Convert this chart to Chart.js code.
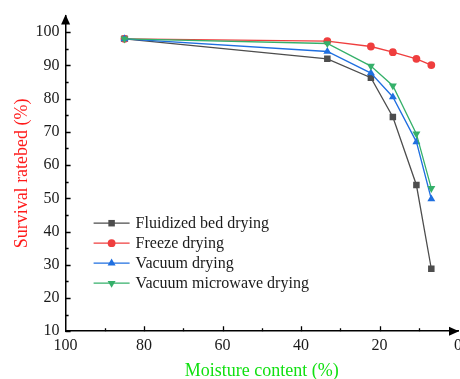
<!DOCTYPE html>
<html>
<head>
<meta charset="utf-8">
<script src="https://cdn.jsdelivr.net/npm/chart.js@4.4.1/dist/chart.umd.min.js"></script>
<style>
  html, body { margin: 0; padding: 0; background: #fff; overflow: hidden; }
  #wrap { width: 467px; height: 379px; position: relative; }
</style>
</head>
<body>
<div id="wrap"><canvas id="survivalChart" aria-label="Survival rate vs moisture content" role="img"></canvas></div>
<script>
const moisture = [85, 33.3, 22.2, 16.6, 10.6, 6.8];
const fluidizedBed = [98, 92, 86.3, 74.5, 54, 28.8];
const freezeDrying = [98, 97.3, 95.7, 94, 92, 90.1];
const vacuumDrying = [98, 94.2, 87.7, 80.5, 67, 49.8];
const vacuumMicrowave = [98, 96.6, 89.8, 83.9, 69.4, 53];
const seriesNames = ['Fluidized bed drying', 'Freeze drying', 'Vacuum drying', 'Vacuum microwave drying'];
const yTicks = [10, 20, 30, 40, 50, 60, 70, 80, 90, 100];
const xTicks = [100, 80, 60, 40, 20, 0];

const serif = "'Liberation Serif', 'Times New Roman', serif";

function toPoints(ys) {
    return ys.map((y, i) => ({ x: moisture[i], y: y }));
}

const styles = [
    { color: '#4d4d4d', point: 'rect', radius: 4.6, rotation: 0 },
    { color: '#ef3e3e', point: 'circle', radius: 3.9, rotation: 0 },
    { color: '#1f6fe0', point: 'triangle', radius: 4.6, rotation: 0 },
    { color: '#35b06a', point: 'triangle', radius: 4.6, rotation: 180 },
];
const values = [fluidizedBed, freezeDrying, vacuumDrying, vacuumMicrowave];

const datasets = values.map((v, i) => ({
    label: seriesNames[i],
    data: toPoints(v),
    borderColor: styles[i].color,
    backgroundColor: styles[i].color,
    borderWidth: 1.3,
    pointStyle: styles[i].point,
    pointRadius: styles[i].radius,
    pointRotation: styles[i].rotation,
    pointBorderWidth: 0,
    pointBackgroundColor: styles[i].color,
    order: 4 - i,
    tension: 0,
}));

// inward ticks, arrows on both axes and the legend box inside the plot
const axisDecor = {
    id: 'axisDecor',
    afterDraw(chart) {
        const ctx = chart.ctx;
        const xs = chart.scales.x;
        const ys = chart.scales.y;
        const area = chart.chartArea;
        ctx.save();
        ctx.strokeStyle = '#000';
        ctx.fillStyle = '#000';
        ctx.lineWidth = 1.3;
        ctx.beginPath();
        for (let v = 10; v <= 100; v += 5) {
            const py = Math.round(ys.getPixelForValue(v)) + 0.5;
            const len = v % 10 === 0 ? 5 : 3;
            ctx.moveTo(area.left, py);
            ctx.lineTo(area.left + len, py);
        }
        for (let v = 90; v >= 10; v -= 10) {
            const px = Math.round(xs.getPixelForValue(v)) + 0.5;
            const len = v % 20 === 0 ? 5 : 3;
            ctx.moveTo(px, area.bottom);
            ctx.lineTo(px, area.bottom - len);
        }
        ctx.stroke();

        // arrows
        ctx.beginPath();
        ctx.moveTo(area.left, area.top - 1);
        ctx.lineTo(area.left - 4.5, area.top + 9);
        ctx.lineTo(area.left + 4.5, area.top + 9);
        ctx.closePath();
        ctx.fill();
        ctx.beginPath();
        ctx.moveTo(area.right + 1, area.bottom);
        ctx.lineTo(area.right - 9, area.bottom - 4.5);
        ctx.lineTo(area.right - 9, area.bottom + 4.5);
        ctx.closePath();
        ctx.fill();

        // legend
        const lx0 = area.left + 28;
        const lx1 = area.left + 64;
        const top = area.bottom - 108;
        ctx.font = '16px ' + serif;
        ctx.textBaseline = 'middle';
        chart.data.datasets.forEach((ds, i) => {
            const y = top + i * 20;
            ctx.strokeStyle = ds.borderColor;
            ctx.fillStyle = ds.borderColor;
            ctx.lineWidth = 1.3;
            ctx.beginPath();
            ctx.moveTo(lx0, y);
            ctx.lineTo(lx1, y);
            ctx.stroke();
            Chart.helpers.drawPoint(ctx, {
                pointStyle: ds.pointStyle,
                rotation: ds.pointRotation,
                radius: ds.pointRadius,
                borderWidth: 0,
            }, (lx0 + lx1) / 2, y);
            ctx.fillStyle = '#1a1a1a';
            ctx.fillText(ds.label, lx1 + 6, y + 1);
        });
        ctx.restore();
    },
};

new Chart(document.getElementById('survivalChart').getContext('2d'), {
    type: 'line',
    data: { datasets: datasets },
    options: {
        responsive: true,
        maintainAspectRatio: false,
        animation: false,
        layout: { padding: { top: 2, left: 0, right: 0, bottom: 0 } },
        plugins: {
            legend: { display: false },
            tooltip: { enabled: false },
        },
        scales: {
            x: {
                type: 'linear',
                reverse: true,
                min: 0,
                max: 100,
                grid: { display: false, drawTicks: false },
                border: { display: true, color: '#000', width: 1.5 },
                afterBuildTicks: (scale) => { scale.ticks = xTicks.map((v) => ({ value: v })); },
                ticks: {
                    padding: 5,
                    maxRotation: 0,
                    color: '#1a1a1a',
                    font: { family: serif, size: 16 },
                },
                title: {
                    display: true,
                    text: 'Moisture content (%)',
                    color: '#11e011',
                    font: { family: serif, size: 18 },
                    padding: { top: 0, bottom: -3 },
                },
            },
            y: {
                min: 10,
                max: 105,
                grid: { display: false, drawTicks: false },
                border: { display: true, color: '#000', width: 1.5 },
                afterBuildTicks: (scale) => { scale.ticks = yTicks.map((v) => ({ value: v })); },
                ticks: {
                    padding: 6,
                    color: '#1a1a1a',
                    font: { family: serif, size: 16 },
                },
                title: {
                    display: true,
                    text: 'Survival ratebed (%)',
                    color: '#ff1a1a',
                    font: { family: serif, size: 18 },
                    padding: { top: 11, bottom: -3 },
                },
            },
        },
    },
    plugins: [axisDecor],
});
</script>
</body>
</html>
